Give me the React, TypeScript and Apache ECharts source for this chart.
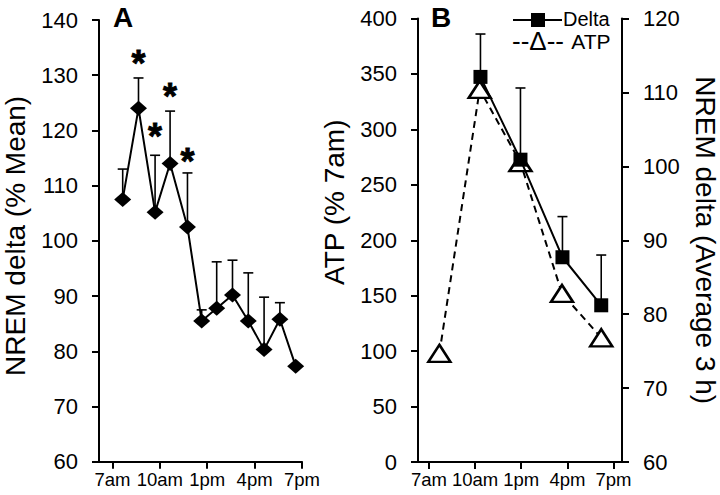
import React, { useEffect, useRef } from "react";
import * as echarts from "echarts";

// Panel A: NREM delta (% Mean), hourly
const hoursA = [7.65, 8.65, 9.7, 10.65, 11.75, 12.65, 13.6, 14.6, 15.6, 16.6, 17.6, 18.6];
const deltaA = [107.5, 124, 105.2, 114, 102.5, 85.5, 87.8, 90.2, 85.5, 80.3, 85.8, 77.3];
const deltaAErrTop = [113, 129.5, 115.5, 123.5, 112.3, 87.5, 96.2, 96.5, 94.2, 89.8, 88.8, 77.3];
// significance asterisks (hour, y)
const starHours = [8.65, 9.7, 10.65, 11.75];
const starY = [133, 119.8, 127, 115.2];

// Panel B
const hoursATP = [7.68, 10.3, 12.95, 15.65, 18.2];
const atp = [98, 336, 270, 152, 112];
const hoursDeltaB = [10.35, 12.95, 15.68, 18.2];
const deltaB = [112.1, 100.9, 87.7, 81.2];
const deltaBErrTop = [117.9, 110.6, 93.2, 88];

const tickHours = [7, 10, 13, 16, 19];
const tickLabels = ["7am", "10am", "1pm", "4pm", "7pm"];

const FONT = "'Liberation Sans', Arial, sans-serif";

function errorBars(xIdx: number, yIdx: number, xs: number[], ys: number[], tops: number[]) {
  return {
    type: "custom",
    xAxisIndex: xIdx,
    yAxisIndex: yIdx,
    z: 1,
    data: xs.map((h, i) => [h, ys[i], tops[i]]),
    renderItem: (_params: any, api: any) => {
      const p0 = api.coord([api.value(0), api.value(1)]);
      const p1 = api.coord([api.value(0), api.value(2)]);
      const st = { stroke: "#000", lineWidth: 1.6 };
      return {
        type: "group",
        children: [
          { type: "line", shape: { x1: p0[0], y1: p0[1], x2: p1[0], y2: p1[1] }, style: st },
          { type: "line", shape: { x1: p1[0] - 5, y1: p1[1], x2: p1[0] + 5, y2: p1[1] }, style: st },
        ],
      };
    },
  };
}

function xAxis(gridIndex: number, min: number, max: number) {
  return {
    type: "value",
    gridIndex,
    min,
    max,
    axisLine: { show: true, lineStyle: { color: "#000", width: 2 } },
    axisTick: { show: true, customValues: tickHours, length: 7, lineStyle: { color: "#000", width: 2 } },
    axisLabel: {
      show: true,
      customValues: tickHours,
      formatter: (v: number) => {
        const i = tickHours.indexOf(Math.round(v));
        return i >= 0 ? tickLabels[i] : "";
      },
      color: "#000",
      fontSize: 18.5,
      fontFamily: FONT,
      margin: 8,
    },
    splitLine: { show: false },
  };
}

function yAxis(
  gridIndex: number,
  min: number,
  max: number,
  interval: number,
  name: string,
  position: string,
  gap: number,
  rotate: number,
  shift: number
) {
  return {
    type: "value",
    gridIndex,
    min,
    max,
    interval,
    position,
    name,
    nameLocation: "middle",
    nameGap: gap,
    nameRotate: rotate,
    nameTextStyle: { color: "#000", fontSize: 28, fontFamily: FONT, padding: [0, 0, 0, shift] },
    axisLine: { show: true, lineStyle: { color: "#000", width: 2 } },
    axisTick: { show: true, length: 7, lineStyle: { color: "#000", width: 2 } },
    axisLabel: { color: "#000", fontSize: 22, fontFamily: FONT, margin: 21 },
    splitLine: { show: false },
  };
}

export default function App() {
  const ref = useRef<HTMLDivElement>(null);
  useEffect(() => {
    if (!ref.current) return;
    const chart = echarts.init(ref.current, null, { renderer: "svg" });
    chart.setOption({
      animation: false,
      backgroundColor: "#fff",
      grid: [
        { left: 99, width: 203, top: 20, bottom: 33.3 },
        { left: 418, right: 92, top: 18.5, bottom: 33 },
      ],
      xAxis: [xAxis(0, 6.15, 19), xAxis(1, 6.29, 19.55)],
      yAxis: [
        yAxis(0, 60, 140, 10, "NREM delta (% Mean)", "left", 70, 90, 10),
        yAxis(1, 0, 400, 50, "ATP (% 7am)", "left", 70, 90, 76),
        yAxis(1, 60, 120, 10, "NREM delta (Average 3 h)", "right", 69, -90, 0),
      ],
      series: [
        errorBars(0, 0, hoursA, deltaA, deltaAErrTop),
        {
          type: "line",
          xAxisIndex: 0,
          yAxisIndex: 0,
          z: 3,
          data: hoursA.map((h, i) => [h, deltaA[i]]),
          symbol: "diamond",
          symbolSize: [17, 15],
          itemStyle: { color: "#000" },
          lineStyle: { color: "#000", width: 2 },
        },
        {
          type: "custom",
          xAxisIndex: 0,
          yAxisIndex: 0,
          z: 4,
          data: starHours.map((h, i) => [h, starY[i]]),
          renderItem: (_params: any, api: any) => {
            const p = api.coord([api.value(0), api.value(1)]);
            return {
              type: "text",
              x: p[0],
              y: p[1] + 5,
              style: {
                text: "*",
                fill: "#000",
                stroke: "#000",
                lineWidth: 0.8,
                font: `bold 36px ${FONT}`,
                textAlign: "center",
                textVerticalAlign: "middle",
              },
            };
          },
        },
        {
          type: "line",
          name: "ATP",
          xAxisIndex: 1,
          yAxisIndex: 1,
          z: 2,
          data: hoursATP.map((h, i) => [h, atp[i]]),
          symbol: "triangle",
          symbolSize: [22, 17],
          itemStyle: { color: "#fff", borderColor: "#000", borderWidth: 2.5 },
          lineStyle: { color: "#000", width: 2, type: [7, 5] },
        },
        errorBars(1, 2, hoursDeltaB, deltaB, deltaBErrTop),
        {
          type: "line",
          name: "Delta",
          xAxisIndex: 1,
          yAxisIndex: 2,
          z: 3,
          data: hoursDeltaB.map((h, i) => [h, deltaB[i]]),
          symbol: "rect",
          symbolSize: 14,
          itemStyle: { color: "#000" },
          lineStyle: { color: "#000", width: 2 },
        },
      ],
      graphic: [
        { type: "text", left: 113, top: 3, style: { text: "A", font: `bold 28px ${FONT}`, fill: "#000" } },
        { type: "text", left: 431, top: 3, style: { text: "B", font: `bold 28px ${FONT}`, fill: "#000" } },
        { type: "line", shape: { x1: 513, y1: 20, x2: 562, y2: 20 }, style: { stroke: "#000", lineWidth: 2 } },
        { type: "rect", shape: { x: 531, y: 13, width: 14, height: 14 }, style: { fill: "#000" } },
        { type: "text", left: 563, top: 9, style: { text: "Delta", font: `20px ${FONT}`, fill: "#000" } },
        {
          type: "text",
          left: 512,
          top: 28,
          style: {
            text: "{d|--\u0394-- }{t|ATP}",
            rich: {
              d: { fontSize: 26, fontFamily: FONT, fill: "#000" },
              t: { fontSize: 21, fontFamily: FONT, fill: "#000" },
            },
            fill: "#000",
          },
        },
      ],
    });
    return () => chart.dispose();
  }, []);
  return (
    <div
      ref={ref}
      style={{ position: "fixed", left: 0, top: 0, width: 720, height: 495, background: "#fff" }}
    />
  );
}
